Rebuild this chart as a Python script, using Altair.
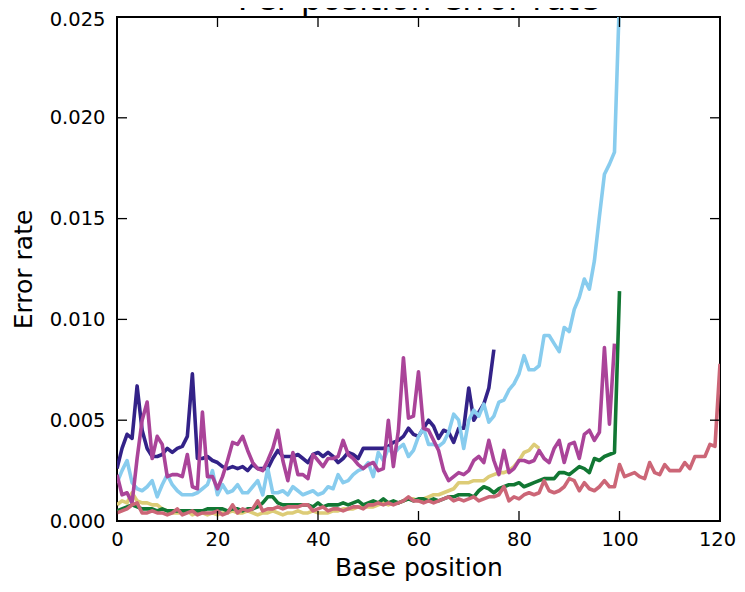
import altair as alt
import pandas as pd

TITLE = "Per position error rate"
X_TITLE = "Base position"
Y_TITLE = "Error rate"

x_ticks = [0, 20, 40, 60, 80, 100, 120]
y_ticks = [0.0, 0.005, 0.010, 0.015, 0.020, 0.025]

navy = [0.0026,0.0036,0.0043,0.0041,0.0067,0.0045,0.0036,0.0032,0.0032,0.0033,
        0.0036,0.0034,0.0036,0.0037,0.0042,0.0073,0.0031,0.0031,0.0032,0.0030,
        0.0029,0.0027,0.0026,0.0027,0.0026,0.0027,0.0025,0.0028,0.0026,0.0026,
        0.0026,0.0031,0.0035,0.0032,0.0032,0.0032,0.0033,0.0031,0.0029,0.0033,
        0.0034,0.0032,0.0034,0.0032,0.0029,0.0031,0.0034,0.0033,0.0031,0.0036,
        0.0036,0.0036,0.0036,0.0036,0.0037,0.0039,0.0040,0.0042,0.0046,0.0043,
        0.0042,0.0046,0.0050,0.0047,0.0041,0.0045,0.0044,0.0039,0.0046,0.0046,
        0.0066,0.0050,0.0054,0.0058,0.0066,0.0085]

lightblue = [0.0019,0.0025,0.0030,0.0019,0.0016,0.0015,0.0017,0.0020,0.0012,0.0018,
             0.0023,0.0018,0.0015,0.0013,0.0013,0.0013,0.0014,0.0016,0.0018,0.0025,
             0.0013,0.0018,0.0014,0.0015,0.0018,0.0014,0.0014,0.0017,0.0020,0.0013,
             0.0026,0.0014,0.0014,0.0015,0.0013,0.0017,0.0015,0.0013,0.0014,0.0015,
             0.0013,0.0014,0.0017,0.0016,0.0023,0.0019,0.0020,0.0023,0.0025,0.0026,
             0.0029,0.0022,0.0034,0.0030,0.0036,0.0033,0.0036,0.0038,0.0032,0.0035,
             0.0042,0.0046,0.0038,0.0038,0.0037,0.0039,0.0044,0.0053,0.0050,0.0036,
             0.0050,0.0055,0.0052,0.0058,0.0049,0.0052,0.0059,0.0060,0.0065,0.0068,
             0.0073,0.0082,0.0075,0.0075,0.0077,0.0092,0.0092,0.0088,0.0084,0.0096,
             0.0094,0.0105,0.0111,0.0120,0.0115,0.0129,0.0151,0.0172,0.0177,0.0183,
             0.0260]

green = [0.0005,0.0006,0.0007,0.0008,0.0007,0.0006,0.0006,0.0006,0.0005,0.0006,
         0.0005,0.0005,0.0005,0.0005,0.0005,0.0005,0.0005,0.0005,0.0006,0.0006,
         0.0006,0.0006,0.0005,0.0006,0.0006,0.0005,0.0006,0.0006,0.0007,0.0009,
         0.0012,0.0012,0.0009,0.0008,0.0008,0.0008,0.0008,0.0008,0.0008,0.0007,
         0.0009,0.0007,0.0008,0.0008,0.0008,0.0009,0.0008,0.0009,0.0010,0.0008,
         0.0009,0.0010,0.0009,0.0011,0.0009,0.0010,0.0009,0.0010,0.0011,0.0010,
         0.0011,0.0011,0.0010,0.0011,0.0010,0.0011,0.0012,0.0012,0.0013,0.0013,
         0.0013,0.0012,0.0015,0.0017,0.0016,0.0014,0.0016,0.0017,0.0018,0.0018,
         0.0019,0.0017,0.0018,0.0019,0.0020,0.0021,0.0021,0.0021,0.0024,0.0024,
         0.0023,0.0025,0.0027,0.0026,0.0024,0.0031,0.0030,0.0032,0.0033,0.0034,
         0.0114]

purple = [0.0023,0.0013,0.0014,0.0009,0.0031,0.0050,0.0059,0.0031,0.0042,0.0038,
          0.0022,0.0023,0.0023,0.0022,0.0033,0.0017,0.0016,0.0054,0.0022,0.0022,
          0.0016,0.0022,0.0030,0.0039,0.0038,0.0042,0.0035,0.0029,0.0026,0.0025,
          0.0030,0.0036,0.0045,0.0030,0.0020,0.0034,0.0023,0.0023,0.0021,0.0033,
          0.0030,0.0027,0.0031,0.0031,0.0032,0.0040,0.0033,0.0031,0.0028,0.0026,
          0.0028,0.0029,0.0025,0.0026,0.0050,0.0027,0.0045,0.0081,0.0051,0.0052,
          0.0074,0.0046,0.0045,0.0040,0.0035,0.0025,0.0020,0.0022,0.0024,0.0023,
          0.0025,0.0030,0.0032,0.0029,0.0040,0.0030,0.0023,0.0035,0.0024,0.0026,
          0.0030,0.0030,0.0029,0.0030,0.0035,0.0031,0.0029,0.0036,0.0040,0.0029,
          0.0038,0.0039,0.0031,0.0043,0.0045,0.0040,0.0044,0.0086,0.0048,0.0088]

yellow = [0.0008,0.0010,0.0009,0.0014,0.0010,0.0009,0.0009,0.0008,0.0008,0.0006,
          0.0005,0.0004,0.0004,0.0004,0.0005,0.0003,0.0004,0.0004,0.0003,0.0004,
          0.0003,0.0004,0.0004,0.0005,0.0004,0.0004,0.0005,0.0004,0.0003,0.0004,
          0.0004,0.0005,0.0004,0.0003,0.0004,0.0004,0.0005,0.0004,0.0004,0.0005,
          0.0004,0.0004,0.0004,0.0005,0.0005,0.0006,0.0006,0.0006,0.0007,0.0007,
          0.0007,0.0007,0.0008,0.0009,0.0008,0.0009,0.0009,0.0010,0.0011,0.0011,
          0.0010,0.0011,0.0012,0.0013,0.0013,0.0014,0.0015,0.0016,0.0019,0.0019,
          0.0019,0.0020,0.0020,0.0020,0.0022,0.0023,0.0024,0.0024,0.0025,0.0027,
          0.0030,0.0034,0.0035,0.0038,0.0036]

rose = [0.0004,0.0005,0.0006,0.0008,0.0009,0.0004,0.0004,0.0005,0.0004,0.0004,
        0.0003,0.0004,0.0006,0.0003,0.0004,0.0005,0.0003,0.0004,0.0004,0.0004,
        0.0005,0.0003,0.0004,0.0008,0.0004,0.0006,0.0005,0.0006,0.0010,0.0005,
        0.0006,0.0006,0.0007,0.0006,0.0007,0.0007,0.0007,0.0008,0.0008,0.0005,
        0.0006,0.0007,0.0005,0.0006,0.0006,0.0005,0.0006,0.0007,0.0007,0.0006,
        0.0008,0.0008,0.0009,0.0008,0.0009,0.0008,0.0009,0.0010,0.0012,0.0010,
        0.0010,0.0009,0.0010,0.0009,0.0010,0.0011,0.0012,0.0010,0.0011,0.0010,
        0.0011,0.0012,0.0010,0.0011,0.0012,0.0012,0.0013,0.0017,0.0010,0.0012,
        0.0011,0.0013,0.0014,0.0013,0.0014,0.0020,0.0015,0.0014,0.0015,0.0017,
        0.0021,0.0020,0.0015,0.0019,0.0016,0.0015,0.0017,0.0020,0.0017,0.0017,
        0.0028,0.0022,0.0023,0.0024,0.0022,0.0021,0.0029,0.0024,0.0023,0.0028,
        0.0025,0.0025,0.0025,0.0029,0.0026,0.0032,0.0032,0.0032,0.0038,0.0037,
        0.0078]

series = [
    ("navy", "#332288", navy),
    ("lightblue", "#88CCEE", lightblue),
    ("yellow", "#DDCC77", yellow),
    ("green", "#117733", green),
    ("purple", "#AA4499", purple),
    ("rose", "#CC6677", rose),
]

W, H = 603, 504
FONT = "DejaVu Sans"

x_axis = alt.Axis(values=x_ticks, title=X_TITLE, labelFontSize=19.5, titleFontSize=25,
                  labelPadding=9, titlePadding=7, format="d",
                  labelFlush=False, labelOverlap=False, labelBound=False,
                  labelOffset=alt.ExprRef("datum.value == 120 ? -3 : 0"))
y_axis = alt.Axis(values=y_ticks, title=Y_TITLE, labelFontSize=19.5, titleFontSize=25,
                  labelPadding=12, titlePadding=13, format=".3f",
                  labelFlush=False, labelOverlap=False, labelBound=False,
                  labelOffset=alt.ExprRef("datum.value == 0.025 ? 2 : 0"))
xs = alt.Scale(domain=[0, 120], nice=False, zero=False)
ys = alt.Scale(domain=[0, 0.025], nice=False)

X = alt.X("x:Q", scale=xs, axis=x_axis)
Y = alt.Y("y:Q", scale=ys, axis=y_axis)

layers = []
for name, color, vals in series:
    df = pd.DataFrame({"x": list(range(len(vals))), "y": vals})
    layers.append(
        alt.Chart(df).mark_line(color=color, strokeWidth=3.6, clip=True,
                                strokeJoin="round").encode(x=X, y=Y)
    )

xt = pd.DataFrame({"x": x_ticks})
yt = pd.DataFrame({"y": y_ticks})
TL = 10
tick_style = dict(color="black", strokeWidth=1.3)
layers.append(alt.Chart(xt).mark_rule(**tick_style).encode(x=X, y=alt.value(H), y2=alt.value(H - TL)))
layers.append(alt.Chart(xt).mark_rule(**tick_style).encode(x=X, y=alt.value(0), y2=alt.value(TL)))
layers.append(alt.Chart(yt).mark_rule(**tick_style).encode(y=Y, x=alt.value(0), x2=alt.value(TL)))
layers.append(alt.Chart(yt).mark_rule(**tick_style).encode(y=Y, x=alt.value(W), x2=alt.value(W - TL)))

title_df = pd.DataFrame({"t": [TITLE]})
layers.append(
    alt.Chart(title_df).mark_text(fontSize=33, font=FONT, align="center", baseline="alphabetic",
                                  color="black")
    .encode(text="t:N", x=alt.value(W / 2), y=alt.value(-7.5))
)

chart = alt.layer(*layers).properties(
    width=W, height=H,
    autosize=alt.AutoSizeParams(type="none"),
    padding={"left": 109, "top": 9, "right": 17, "bottom": 63},
).configure_view(stroke="black", strokeWidth=2).configure_axis(
    grid=False, domain=False, ticks=False, labelFont=FONT, titleFont=FONT,
    labelColor="black", titleColor="black", titleFontWeight="normal"
)

chart.save("out.html", embed_options={"renderer": "svg", "actions": False})
